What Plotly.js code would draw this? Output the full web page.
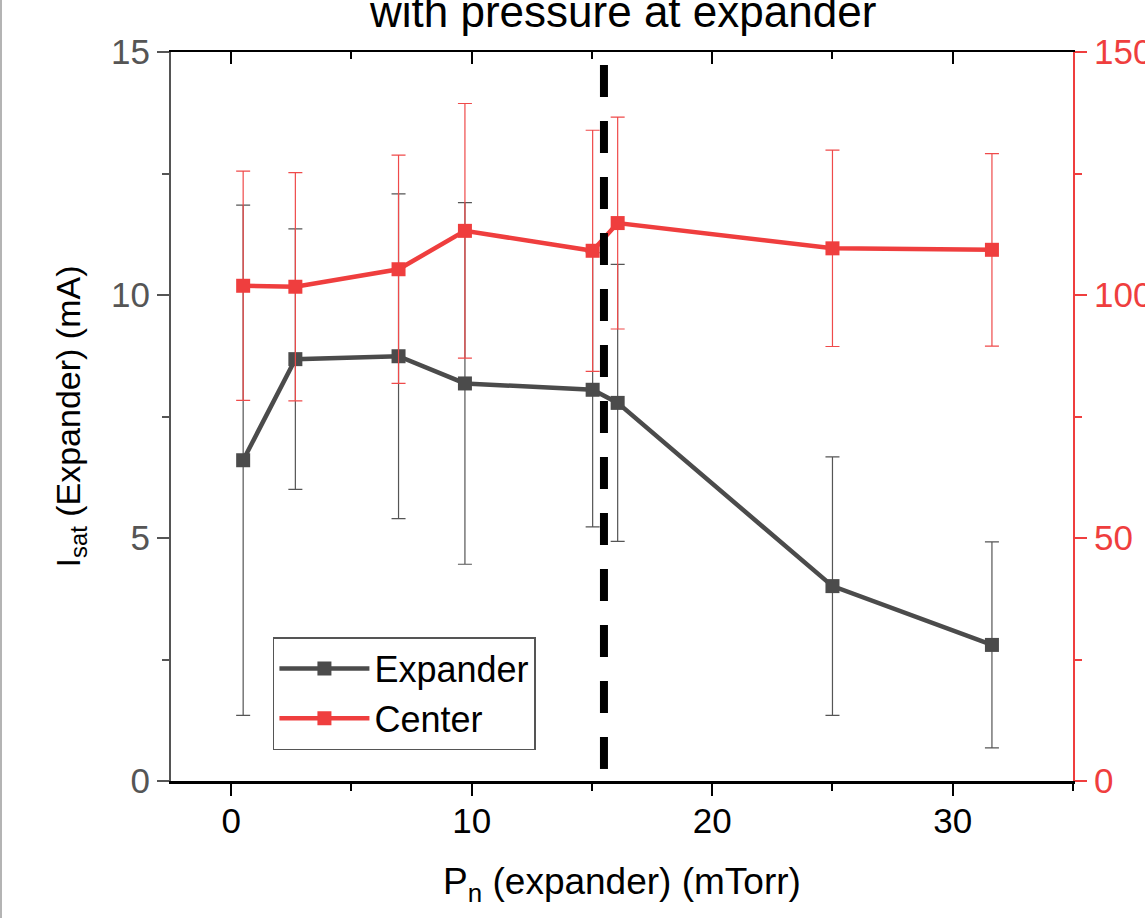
<!DOCTYPE html>
<html>
<head>
<meta charset="utf-8">
<script src="https://cdn.plot.ly/plotly-3.0.1.min.js"></script>
<style>
  html, body { margin: 0; padding: 0; background: #fff; }
  #chart { width: 1145px; height: 918px; }
  #edge { position: absolute; left: 0; top: 0; width: 2px; height: 918px; background: #b4b4b4; }
</style>
</head>
<body>
<div id="chart"></div>
<div id="edge"></div>
<script>
// ---- data ----
const pressure = [0.5, 2.67, 6.96, 9.72, 15.03, 16.07, 25.0, 31.63];        // mTorr
const isatExpander = [6.60, 8.68, 8.74, 8.18, 8.05, 7.78, 4.01, 2.80];     // mA (left axis)
const isatExpanderErr = [5.25, 2.68, 3.34, 3.72, 2.82, 2.85, 2.66, 2.12];
const isatCenter = [101.9, 101.7, 105.3, 113.2, 109.1, 114.8, 109.6, 109.3]; // right axis
const isatCenterErr = [23.6, 23.5, 23.5, 26.2, 24.8, 21.8, 20.2, 19.8];
const seriesNames = ['Expander', 'Center'];
const markerPressure = 15.5;   // dashed vertical line
const xTicks = [0, 10, 20, 30];
const yLeftTicks = [0, 5, 10, 15];
const yRightTicks = [0, 50, 100, 150];
const titleText = 'with pressure at expander';
const xTitle = 'P<sub>n</sub> (expander) (mTorr)';
const yTitle = 'I<sub>sat</sub> (Expander) (mA)';

const GRAY = '#4b4b4b';
const RED = '#ef3e3e';
const FONT = 'Liberation Sans, Arial, Helvetica, sans-serif';

const traces = [
  {
    x: pressure, y: isatExpander, name: seriesNames[0],
    type: 'scatter', mode: 'lines+markers',
    xaxis: 'x', yaxis: 'y',
    line: { color: GRAY, width: 4.5 },
    marker: { symbol: 'square', size: 14, color: GRAY },
    error_y: { type: 'data', array: isatExpanderErr, visible: true, color: '#555555', thickness: 1.2, width: 7 }
  },
  {
    x: pressure, y: isatCenter, name: seriesNames[1],
    type: 'scatter', mode: 'lines+markers',
    xaxis: 'x', yaxis: 'y2',
    line: { color: RED, width: 4.5 },
    marker: { symbol: 'square', size: 14, color: RED },
    error_y: { type: 'data', array: isatCenterErr, visible: true, color: '#ef4a4a', thickness: 1.2, width: 7 }
  },
  { x: [], y: [], xaxis: 'x2', yaxis: 'y', showlegend: false, hoverinfo: 'skip', type: 'scatter' }
];

const layout = {
  width: 1145, height: 918,
  margin: { l: 171, r: 72, t: 52, b: 137, pad: 0 },
  paper_bgcolor: '#ffffff', plot_bgcolor: '#ffffff',
  font: { family: FONT, color: '#000' },
  showlegend: true,
  legend: {
    x: 0.113, y: 0.1975, xanchor: 'left', yanchor: 'top',
    bgcolor: '#ffffff', bordercolor: '#555555', borderwidth: 1.5,
    font: { family: FONT, size: 36, color: '#000' },
    itemwidth: 90, tracegroupgap: 0
  },
  xaxis: {
    range: [-2.5, 35], tickvals: xTicks, ticktext: xTicks.map(String),
    showgrid: false, zeroline: false,
    showline: true, linecolor: '#000', linewidth: 2.5,
    ticks: 'outside', ticklen: 12, tickwidth: 2, tickcolor: '#000',
    minor: { dtick: 5, tick0: 0, ticks: 'outside', ticklen: 7, tickwidth: 2, tickcolor: '#000' },
    tickfont: { family: FONT, size: 35, color: '#000' },
    ticklabelstandoff: -5,
    title: { text: xTitle, font: { family: FONT, size: 37, color: '#000' }, standoff: 30 },
    automargin: false
  },
  xaxis2: {
    range: [-2.5, 35], overlaying: 'x', side: 'top', anchor: 'y',
    tickvals: xTicks, showticklabels: false,
    showgrid: false, zeroline: false,
    showline: true, linecolor: '#000', linewidth: 2.5,
    ticks: 'inside', ticklen: 12, tickwidth: 2, tickcolor: '#000',
    minor: { dtick: 5, tick0: 0, ticks: 'inside', ticklen: 7, tickwidth: 2, tickcolor: '#000' }
  },
  yaxis: {
    range: [0, 15], tickvals: yLeftTicks, ticktext: yLeftTicks.map(String),
    showgrid: false, zeroline: false,
    showline: true, linecolor: '#555555', linewidth: 2,
    ticks: 'outside', ticklen: 12, tickwidth: 2, tickcolor: '#555555',
    minor: { dtick: 2.5, tick0: 0, ticks: 'outside', ticklen: 7, tickwidth: 2, tickcolor: '#555555' },
    tickfont: { family: FONT, size: 35, color: '#555555' },
    title: { text: yTitle, font: { family: FONT, size: 34, color: '#000' }, standoff: 20 },
    automargin: false
  },
  yaxis2: {
    range: [0, 150], overlaying: 'y', side: 'right', anchor: 'x',
    tickvals: yRightTicks, ticktext: yRightTicks.map(String),
    showgrid: false, zeroline: false,
    showline: true, linecolor: RED, linewidth: 2,
    ticks: 'outside', ticklen: 12, tickwidth: 2, tickcolor: RED,
    minor: { dtick: 25, tick0: 0, ticks: 'outside', ticklen: 7, tickwidth: 2, tickcolor: RED },
    tickfont: { family: FONT, size: 35, color: RED },
    automargin: false
  },
  shapes: [
    {
      type: 'line', xref: 'x', yref: 'paper',
      x0: markerPressure, x1: markerPressure, y0: 0.982, y1: 0.0165,
      line: { color: '#000', width: 8, dash: '32px,24px' },
      layer: 'above'
    }
  ],
  annotations: [
    {
      text: titleText, xref: 'paper', yref: 'paper', x: 0.5, y: 1,
      xanchor: 'center', yanchor: 'bottom', yshift: 14, showarrow: false,
      font: { family: FONT, size: 44, color: '#000' }
    }
  ]
};

Plotly.newPlot('chart', traces, layout, { displayModeBar: false, staticPlot: true });
</script>
</body>
</html>
